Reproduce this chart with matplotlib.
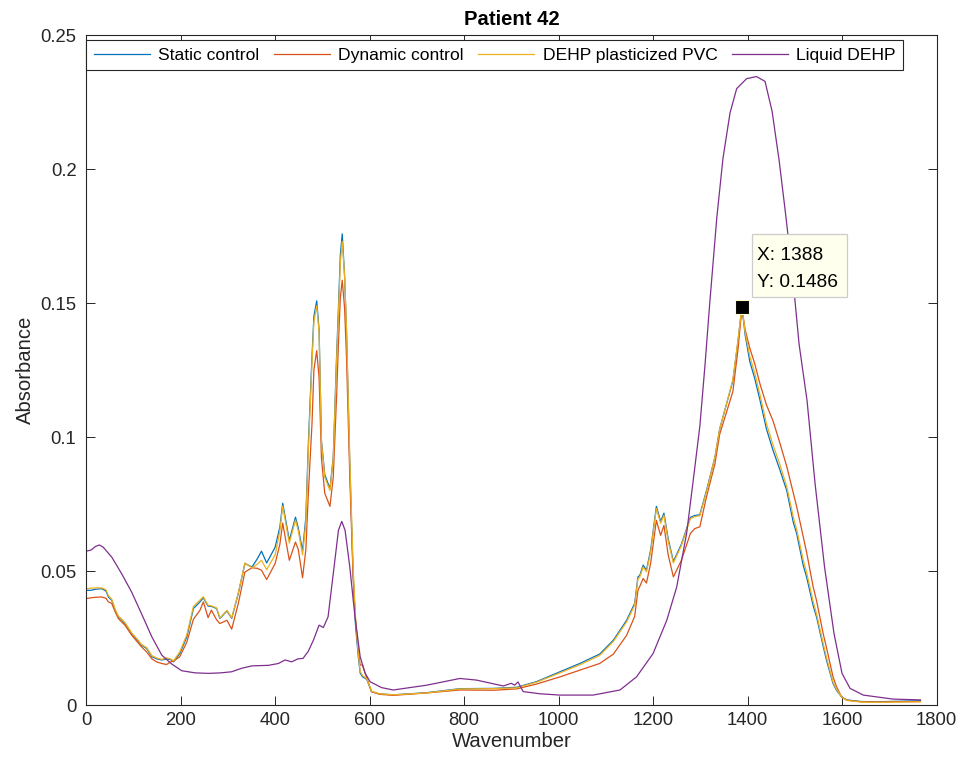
import matplotlib
matplotlib.use("Agg")
import matplotlib.pyplot as plt
from matplotlib.patches import Rectangle

plt.rcParams['font.family'] = ['Liberation Sans', 'DejaVu Sans']

# ---- data: three similar spectra share one wavenumber grid ----
wn = [0, 10, 20, 33, 42, 47, 54, 62, 68, 75, 82, 96, 110, 117, 128, 139, 150, 160, 170, 178,
      185, 198, 213, 227, 241, 248, 258, 265, 276, 283, 298, 308, 322, 336, 351, 362, 371, 382,
      400, 410, 416, 430, 443, 449, 458, 465, 470, 478, 482, 488, 493, 498, 505, 516, 523, 530,
      534, 538, 542, 547, 551, 558, 565, 570, 576, 580, 585, 594, 604, 620, 650, 721, 791, 862,
      911, 953, 1003, 1045, 1087, 1116, 1144, 1161, 1168, 1172, 1179, 1186, 1195, 1207, 1216,
      1223, 1232, 1243, 1260, 1279, 1288, 1299, 1313, 1331, 1341, 1355, 1369, 1380, 1388, 1395,
      1405, 1415, 1426, 1440, 1454, 1468, 1483, 1497, 1504, 1518, 1525, 1539, 1546, 1560, 1567,
      1581, 1588, 1599, 1610, 1640, 1673, 1720, 1766]

static_control = [0.0428, 0.0428, 0.0432, 0.0434, 0.0425, 0.0403, 0.0391, 0.0350, 0.0329, 0.0318,
                  0.0304, 0.0267, 0.0238, 0.0223, 0.0211, 0.0180, 0.0172, 0.0168, 0.0172, 0.0170,
                  0.0161, 0.0192, 0.0254, 0.0360, 0.0385, 0.0400, 0.0369, 0.0368, 0.0360, 0.0323,
                  0.0351, 0.0323, 0.0416, 0.0528, 0.0515, 0.0545, 0.0574, 0.0530, 0.0589, 0.0664,
                  0.0753, 0.0614, 0.0701, 0.0660, 0.0575, 0.0700, 0.0962, 0.1300, 0.1450, 0.1508,
                  0.1400, 0.0987, 0.0860, 0.0807, 0.0925, 0.1300, 0.1483, 0.1680, 0.1758, 0.1600,
                  0.1396, 0.0900, 0.0490, 0.0300, 0.0180, 0.0119, 0.0105, 0.0096, 0.0050, 0.0042,
                  0.0038, 0.0046, 0.0061, 0.0062, 0.0066, 0.0087, 0.0124, 0.0155, 0.0190, 0.0242,
                  0.0316, 0.0379, 0.0478, 0.0484, 0.0522, 0.0503, 0.0580, 0.0741, 0.0685, 0.0716,
                  0.0620, 0.0536, 0.0600, 0.0700, 0.0707, 0.0710, 0.0800, 0.0925, 0.1030, 0.1120,
                  0.1210, 0.1360, 0.1486, 0.1380, 0.1280, 0.1220, 0.1140, 0.1030, 0.0950, 0.0880,
                  0.0800, 0.0680, 0.0640, 0.0520, 0.0478, 0.0370, 0.0329, 0.0220, 0.0168, 0.0080,
                  0.0056, 0.0030, 0.0019, 0.0013, 0.0012, 0.0014, 0.0016]

dynamic_control = [0.0397, 0.0400, 0.0402, 0.0403, 0.0398, 0.0385, 0.0379, 0.0345, 0.0323, 0.0310,
                   0.0298, 0.0261, 0.0232, 0.0217, 0.0198, 0.0172, 0.0160, 0.0155, 0.0151, 0.0160,
                   0.0164, 0.0180, 0.0235, 0.0320, 0.0354, 0.0385, 0.0326, 0.0354, 0.0318, 0.0304,
                   0.0316, 0.0283, 0.0379, 0.0496, 0.0512, 0.0510, 0.0503, 0.0468, 0.0528, 0.0600,
                   0.0679, 0.0540, 0.0608, 0.0580, 0.0475, 0.0580, 0.0780, 0.1050, 0.1250, 0.1322,
                   0.1220, 0.0920, 0.0790, 0.0741, 0.0850, 0.1150, 0.1350, 0.1520, 0.1585, 0.1480,
                   0.1300, 0.0850, 0.0480, 0.0320, 0.0200, 0.0149, 0.0149, 0.0100, 0.0050, 0.0040,
                   0.0036, 0.0045, 0.0056, 0.0055, 0.0060, 0.0078, 0.0105, 0.0130, 0.0155, 0.0190,
                   0.0260, 0.0330, 0.0428, 0.0443, 0.0472, 0.0455, 0.0530, 0.0689, 0.0633, 0.0670,
                   0.0560, 0.0478, 0.0540, 0.0640, 0.0658, 0.0665, 0.0776, 0.0900, 0.1010, 0.1090,
                   0.1170, 0.1330, 0.1480, 0.1400, 0.1330, 0.1275, 0.1200, 0.1120, 0.1060, 0.0980,
                   0.0890, 0.0790, 0.0740, 0.0627, 0.0570, 0.0440, 0.0390, 0.0267, 0.0215, 0.0105,
                   0.0070, 0.0030, 0.0018, 0.0012, 0.0011, 0.0012, 0.0013]

plasticized_pvc = [0.0434, 0.0436, 0.0437, 0.0437, 0.0430, 0.0408, 0.0395, 0.0355, 0.0332, 0.0320,
                   0.0308, 0.0270, 0.0242, 0.0226, 0.0214, 0.0184, 0.0175, 0.0170, 0.0176, 0.0172,
                   0.0165, 0.0198, 0.0262, 0.0368, 0.0392, 0.0404, 0.0372, 0.0370, 0.0362, 0.0325,
                   0.0353, 0.0325, 0.0418, 0.0530, 0.0512, 0.0525, 0.0540, 0.0505, 0.0560, 0.0650,
                   0.0742, 0.0604, 0.0690, 0.0650, 0.0560, 0.0680, 0.0940, 0.1280, 0.1430, 0.1490,
                   0.1390, 0.0980, 0.0850, 0.0800, 0.0920, 0.1280, 0.1460, 0.1650, 0.1730, 0.1600,
                   0.1410, 0.0920, 0.0520, 0.0330, 0.0190, 0.0125, 0.0110, 0.0098, 0.0052, 0.0042,
                   0.0038, 0.0045, 0.0060, 0.0061, 0.0064, 0.0085, 0.0120, 0.0150, 0.0185, 0.0237,
                   0.0310, 0.0372, 0.0470, 0.0478, 0.0515, 0.0497, 0.0572, 0.0733, 0.0678, 0.0708,
                   0.0612, 0.0530, 0.0595, 0.0695, 0.0703, 0.0706, 0.0795, 0.0925, 0.1030, 0.1120,
                   0.1215, 0.1365, 0.1486, 0.1390, 0.1300, 0.1240, 0.1160, 0.1050, 0.0970, 0.0900,
                   0.0815, 0.0700, 0.0655, 0.0540, 0.0495, 0.0385, 0.0340, 0.0230, 0.0178, 0.0085,
                   0.0060, 0.0030, 0.0017, 0.0011, 0.0010, 0.0011, 0.0012]

# ---- data: liquid DEHP on its own grid ----
wn_liquid = [0, 10, 20, 28, 36, 54, 75, 96, 117, 139, 160, 181, 202, 230, 259, 285, 308, 329, 351,
             386, 407, 421, 435, 448, 459, 470, 481, 493, 502, 512, 523, 534, 541, 548, 558, 569,
             580, 590, 601, 625, 650, 721, 791, 826, 883, 900, 907, 914, 925, 960, 1003, 1073, 1130,
             1165, 1200, 1229, 1250, 1271, 1285, 1299, 1310, 1320, 1335, 1348, 1363, 1377, 1398,
             1419, 1437, 1452, 1467, 1480, 1495, 1509, 1526, 1543, 1563, 1583, 1600, 1617, 1645,
             1708, 1766]
liquid_dehp = [0.0574, 0.0578, 0.0592, 0.0597, 0.0589, 0.0552, 0.0490, 0.0422, 0.0341, 0.0254,
               0.0186, 0.0153, 0.0128, 0.0120, 0.0118, 0.0120, 0.0124, 0.0137, 0.0146, 0.0148,
               0.0155, 0.0168, 0.0161, 0.0172, 0.0174, 0.0200, 0.0242, 0.0298, 0.0289, 0.0329,
               0.0490, 0.0652, 0.0685, 0.0652, 0.0515, 0.0329, 0.0180, 0.0120, 0.0087, 0.0065,
               0.0056, 0.0074, 0.0099, 0.0093, 0.0071, 0.0081, 0.0074, 0.0086, 0.0050, 0.0042,
               0.0037, 0.0037, 0.0056, 0.0105, 0.0192, 0.0316, 0.0440, 0.0640, 0.0838, 0.1040,
               0.1270, 0.1500, 0.1820, 0.2040, 0.2210, 0.2300, 0.2337, 0.2345, 0.2327, 0.2215,
               0.2030, 0.1840, 0.1610, 0.1348, 0.1135, 0.0825, 0.0515, 0.0267, 0.0118, 0.0062,
               0.0037, 0.0022, 0.0019]

series_names = ["Static control", "Dynamic control", "DEHP plasticized PVC", "Liquid DEHP"]
series_colors = ["#0072BD", "#D95319", "#EDB120", "#7E2F8E"]

tip_x, tip_y = 1388, 0.1486
x_ticks = [0, 200, 400, 600, 800, 1000, 1200, 1400, 1600, 1800]
y_ticks = [0, 0.05, 0.1, 0.15, 0.2, 0.25]
y_tick_labels = ["0", "0.05", "0.1", "0.15", "0.2", "0.25"]

# ---- figure ----
fig = plt.figure(figsize=(9.64, 7.69), dpi=100)
ax = fig.add_axes([86.2 / 964, 1 - 705 / 769, (936.5 - 86.2) / 964, (705 - 35) / 769])

dark = (0.15, 0.15, 0.15)
lw = 0.9
ax.plot(wn, static_control, color=series_colors[0], lw=lw, label=series_names[0])
ax.plot(wn, dynamic_control, color=series_colors[1], lw=lw, label=series_names[1])
ax.plot(wn, plasticized_pvc, color=series_colors[2], lw=lw, label=series_names[2])
ax.plot(wn_liquid, liquid_dehp, color=series_colors[3], lw=lw, label=series_names[3])

# data tip
ax.plot([tip_x], [tip_y], marker='s', markersize=10, color='black',
        markeredgecolor='#FFFFC8', markeredgewidth=0.8, zorder=5)
box_x0, box_y0, box_x1, box_y1 = 1408.6, 0.1521, 1610.8, 0.1756
ax.add_patch(Rectangle((box_x0, box_y0), box_x1 - box_x0, box_y1 - box_y0,
                       facecolor='#FFFFEE', edgecolor='#CCCCCC', lw=0.9, zorder=6))
ax.text(1420, 0.1660, f"X: {tip_x}", fontsize=13.8, color='black', ha='left',
        va='baseline', zorder=7)
ax.text(1420, 0.1561, f"Y: {tip_y}", fontsize=13.8, color='black', ha='left',
        va='baseline', zorder=7)

ax.set_xlim(0, 1800)
ax.set_ylim(0, 0.25)
ax.set_xticks(x_ticks)
ax.set_yticks(y_ticks)
ax.set_yticklabels(y_tick_labels)

for s in ax.spines.values():
    s.set_color(dark)
    s.set_linewidth(0.8)
ax.tick_params(direction='in', length=6.5, width=0.7, colors=dark, labelsize=13.3,
               top=True, right=True, labelcolor=dark, pad=5)
ax.tick_params(axis='y', pad=7)

ax.set_xlabel("Wavenumber", fontsize=14.6, color=dark, labelpad=2)
ax.set_ylabel("Absorbance", fontsize=14.6, color=dark, labelpad=4)
ax.set_title("Patient 42", fontsize=14.6, fontweight='bold', color='black', pad=7)

leg = ax.legend(loc='upper left', bbox_to_anchor=(0.0, 0.9425, 0.961, 0.05), mode='expand',
                ncol=4, fontsize=12.6, frameon=True, fancybox=False, framealpha=1,
                edgecolor=dark, handlelength=3.2, handletextpad=0.5, borderpad=0.42,
                columnspacing=0.8, borderaxespad=0)
leg.get_frame().set_linewidth(0.8)

fig.savefig("out.png", dpi=100, facecolor='white')
